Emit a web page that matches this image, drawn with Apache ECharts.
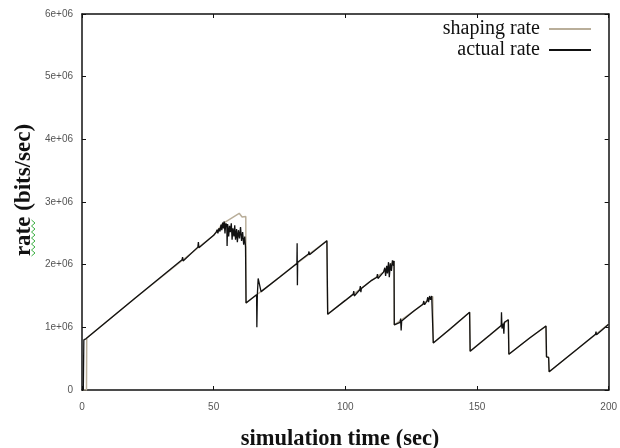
<!DOCTYPE html>
<html>
<head>
<meta charset="utf-8">
<script src="https://cdn.jsdelivr.net/npm/echarts@6/dist/echarts.min.js"></script>
<style>
    html, body { margin: 0; padding: 0; background: #fff; }
    #rateChart { width: 620px; height: 448px; }
</style>
</head>
<body>
<div id="rateChart"></div>
<script>
// tick labels
var xTicks = [0, 50, 100, 150, 200];
var yTickText = ['0', '1e+06', '2e+06', '3e+06', '4e+06', '5e+06', '6e+06'];

// shaping rate, [sec, bits/sec]
var shapingRate = [
    [0.5, 0], [1.7, 0], [1.8, 830000], [20, 1460000], [50, 2470000],
    [53.6, 2660000], [59.7, 2820000], [60.8, 2760000], [62.2, 2770000], [62.3, 1390000],
    [66.3, 1520000], [68, 1570000], [75, 1800000], [81.6, 2020000], [93, 2380000], [93.3, 1210000],
    [100, 1430000], [110, 1750000], [114.5, 1880000], [118.5, 2060000], [118.6, 1040000],
    [126, 1260000], [133.2, 1490000], [133.4, 750000],
    [140, 980000], [147.2, 1240000], [147.4, 620000], [155, 880000], [161.9, 1120000], [162.1, 570000],
    [170, 830000], [176.2, 1020000], [176.4, 530000], [177.2, 520000], [177.4, 290000],
    [188, 650000], [200, 1050000]
];

// actual rate, [sec, bits/sec]
var actualRate = [
    [0.5, 0], [0.7, 800000], [1.6, 820000], [20, 1460000], [38, 2080000],
    [38.2, 2120000], [38.4, 2060000], [44, 2280000], [44.2, 2360000], [44.4, 2270000],
    [50, 2470000], [51, 2520000], [51.3, 2560000], [51.6, 2500000], [52, 2580000],
    [52.4, 2530000], [52.8, 2640000], [53.1, 2550000], [53.4, 2670000], [53.7, 2580000],
    [54, 2690000], [54.3, 2500000], [54.6, 2660000], [55, 2620000], [55.1, 2300000],
    [55.3, 2650000], [55.7, 2450000], [56, 2620000], [56.3, 2520000], [56.7, 2660000],
    [57, 2400000], [57.3, 2580000], [57.7, 2450000], [58, 2630000], [58.3, 2400000],
    [58.7, 2570000], [59, 2360000], [59.4, 2550000], [59.8, 2420000], [60.2, 2600000],
    [60.6, 2380000], [61, 2520000], [61.4, 2320000], [61.8, 2450000], [62.1, 2280000],
    [62.3, 1390000], [66.3, 1520000], [66.4, 1000000], [66.6, 1530000], [66.9, 1780000],
    [67.6, 1760000], [68, 1570000], [75, 1800000], [81.6, 2020000], [81.7, 2340000],
    [81.8, 1670000], [81.9, 2040000], [86, 2170000], [86.2, 2210000], [86.4, 2160000],
    [93, 2380000], [93.3, 1210000], [100, 1430000], [103, 1530000], [103.2, 1580000],
    [103.4, 1500000], [105.5, 1600000], [105.7, 1660000], [105.9, 1560000], [106.1, 1620000],
    [110, 1750000], [112, 1800000], [112.2, 1850000], [112.4, 1780000], [114.5, 1880000],
    [115, 1950000], [115.3, 1820000], [115.7, 1980000], [116, 1860000], [116.4, 2040000],
    [116.7, 1800000], [117.1, 2020000], [117.5, 1900000], [117.9, 2070000], [118.3, 1980000],
    [118.5, 2060000], [118.6, 1040000], [120.8, 1080000], [121, 1140000], [121.2, 950000],
    [121.4, 1100000], [126, 1260000], [129.5, 1370000], [129.8, 1420000], [130.1, 1360000],
    [131, 1420000], [131.3, 1480000], [131.6, 1400000], [132, 1500000], [132.4, 1440000],
    [132.8, 1500000], [133.2, 1490000], [133.4, 750000], [140, 980000], [147.2, 1240000],
    [147.4, 620000], [155, 880000], [159.2, 1030000], [159.3, 1240000], [159.5, 980000],
    [160, 1060000], [160.2, 900000], [160.4, 1080000], [161.9, 1120000], [162.1, 570000],
    [170, 830000], [176.2, 1020000], [176.4, 530000], [177.2, 520000], [177.4, 290000],
    [188, 650000], [195, 890000], [195.2, 930000], [195.4, 880000], [200, 1050000]
];

var rateChart = echarts.init(document.getElementById('rateChart'), null, {renderer: 'canvas'});

// green spell-check squiggle under "rate"
var squiggle = [];
for (var i = 0; i <= 12; i++) {
    squiggle.push([i % 2 === 0 ? 31.5 : 35, 220 + i * 3]);
}

function axisLine() {
    return {show: true, onZero: false, lineStyle: {color: '#111', width: 1.5}};
}
function axisTick() {
    return {show: true, inside: true, length: 4, lineStyle: {color: '#111', width: 1}};
}
var labelFont = 'Liberation Sans';

var option = {
    backgroundColor: '#fff',
    animation: false,
    grid: {left: 82, right: 11, top: 14, bottom: 58},
    legend: {
        orient: 'vertical',
        right: 24,
        top: 14,
        align: 'right',
        icon: 'rect',
        itemWidth: 42,
        itemHeight: 2,
        itemGap: 1,
        textStyle: {
            fontFamily: 'Liberation Serif',
            fontSize: 20,
            lineHeight: 20,
            color: '#111',
            padding: [0, 4, 0, 0]
        },
        data: ['shaping rate', 'actual rate']
    },
    xAxis: [{
        type: 'value',
        min: 0,
        max: 200,
        interval: 50,
        axisLine: axisLine(),
        axisTick: axisTick(),
        splitLine: {show: false},
        axisLabel: {
            margin: 12,
            fontFamily: labelFont,
            fontSize: 10,
            color: '#555',
            formatter: function (v) { return xTicks.indexOf(v) >= 0 ? String(v) : ''; }
        }
    }, {
        type: 'value',
        position: 'top',
        min: 0,
        max: 200,
        interval: 50,
        axisLine: axisLine(),
        axisTick: axisTick(),
        splitLine: {show: false},
        axisLabel: {show: false}
    }],
    yAxis: [{
        type: 'value',
        min: 0,
        max: 6000000,
        interval: 1000000,
        axisLine: axisLine(),
        axisTick: axisTick(),
        splitLine: {show: false},
        axisLabel: {
            margin: 9,
            fontFamily: labelFont,
            fontSize: 10,
            color: '#555',
            formatter: function (v) { return yTickText[Math.round(v / 1000000)]; }
        }
    }, {
        type: 'value',
        position: 'right',
        min: 0,
        max: 6000000,
        interval: 1000000,
        axisLine: axisLine(),
        axisTick: axisTick(),
        splitLine: {show: false},
        axisLabel: {show: false}
    }],
    series: [{
        name: 'shaping rate',
        type: 'line',
        data: shapingRate,
        showSymbol: false,
        color: '#b9ae9a',
        lineStyle: {color: '#b9ae9a', width: 1.5}
    }, {
        name: 'actual rate',
        type: 'line',
        data: actualRate,
        showSymbol: false,
        color: '#111',
        lineStyle: {color: '#111', width: 1.3}
    }],
    graphic: [{
        type: 'text',
        x: 340,
        y: 439,
        style: {
            text: 'simulation time (sec)',
            font: 'bold 22.5px "Liberation Serif"',
            fill: '#111',
            align: 'center',
            verticalAlign: 'middle'
        }
    }, {
        type: 'text',
        x: 24,
        y: 190,
        rotation: Math.PI / 2,
        style: {
            text: 'rate (bits/sec)',
            font: 'bold 23px "Liberation Serif"',
            fill: '#111',
            align: 'center',
            verticalAlign: 'middle'
        }
    }, {
        type: 'polyline',
        shape: {points: squiggle},
        style: {stroke: '#3cb043', lineWidth: 1, fill: null}
    }]
};

rateChart.setOption(option);
</script>
</body>
</html>
